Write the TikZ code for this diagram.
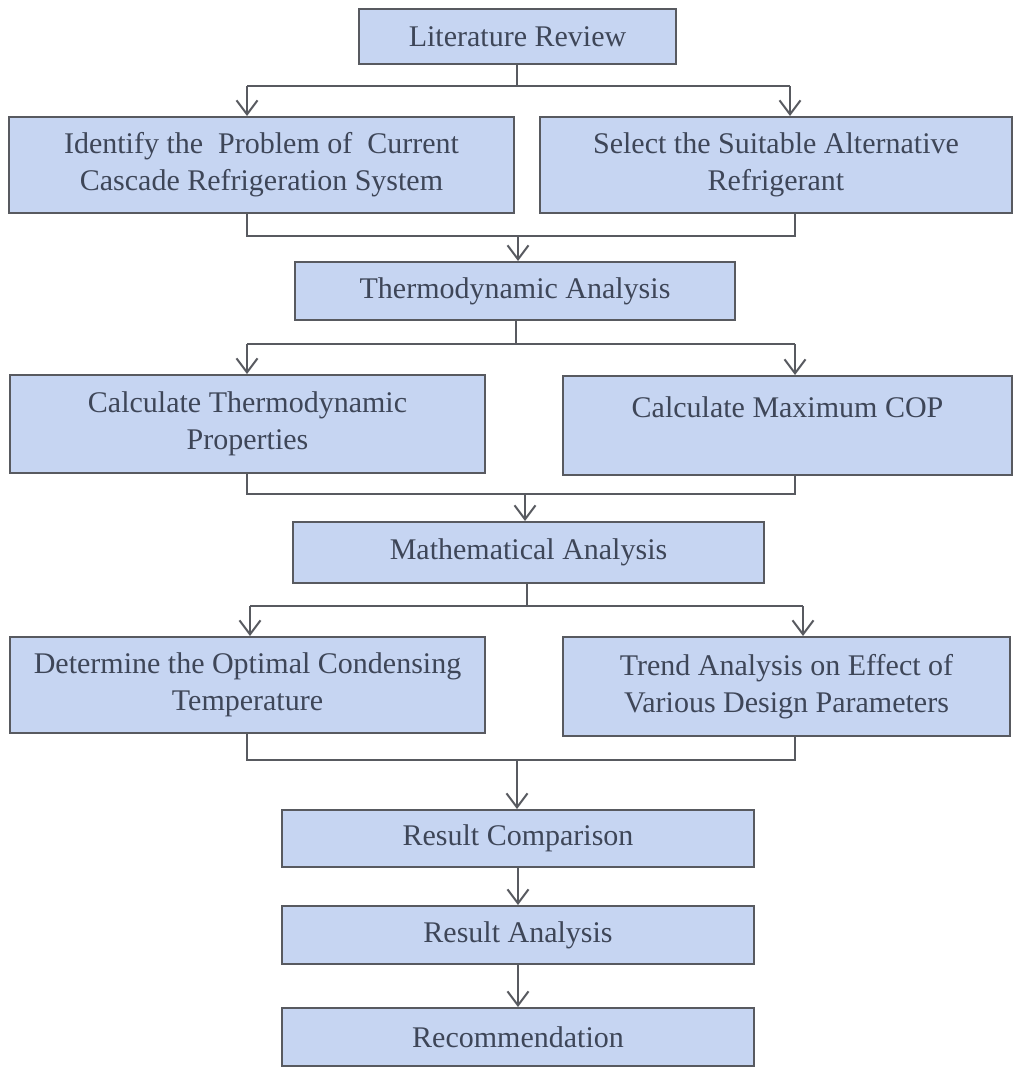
\documentclass[tikz,border=0pt]{standalone}
\usepackage{fontspec}
\setmainfont{Liberation Serif}
\usetikzlibrary{arrows.meta}
\definecolor{boxblue}{RGB}{198,213,242}
\definecolor{boxedge}{RGB}{88,90,96}
\definecolor{txtgray}{RGB}{62,70,88}
\tikzset{
  stage/.style={draw=boxedge, fill=boxblue, line width=2pt, text=txtgray,
    align=center, inner sep=0pt, font=\fontsize{30}{37}\selectfont},
  flow/.style={draw=boxedge, line width=2pt},
  into/.style={flow, -{Straight Barb[length=14pt,width=21pt,line width=2pt]}}
}
\begin{document}
\begin{tikzpicture}[x=1pt,y=-1pt]
\useasboundingbox (0,0) rectangle (1018,1071);
% boxes
\node[stage, minimum width=317pt, minimum height=55pt] (lr) at (517.5,36.5) {Literature Review};
\node[stage, minimum width=505pt, minimum height=96pt] (id) at (261.5,165) {Identify the\ \ Problem of\ \ Current\\Cascade Refrigeration System};
\node[stage, minimum width=472pt, minimum height=96pt] (sel) at (776,165) {Select the Suitable Alternative\\Refrigerant};
\node[stage, minimum width=440pt, minimum height=58pt] (ta) at (515,291) {Thermodynamic Analysis};
\node[stage, minimum width=475pt, minimum height=98pt] (ctp) at (247.5,424) {Calculate Thermodynamic\\Properties};
\node[stage, minimum width=449pt, minimum height=99pt] (cmc) at (787.5,425.5) {Calculate Maximum COP\\\mbox{}};
\node[stage, minimum width=471pt, minimum height=61pt] (ma) at (528.5,552.5) {Mathematical Analysis};
\node[stage, minimum width=475pt, minimum height=96pt] (det) at (247.5,685) {Determine the Optimal Condensing\\Temperature};
\node[stage, minimum width=447pt, minimum height=99pt] (tr) at (786.5,686.5) {Trend Analysis on Effect of\\Various Design Parameters};
\node[stage, minimum width=472pt, minimum height=57pt] (rc) at (518,838.5) {Result Comparison};
\node[stage, minimum width=472pt, minimum height=58pt] (ra) at (518,935) {Result Analysis};
\node[stage, minimum width=472pt, minimum height=58pt] (rec) at (518,1037) {Recommendation};

% split and merge points
\coordinate (s1) at (517,86);  \coordinate (s1L) at (247,86);  \coordinate (s1R) at (790,86);
\coordinate (m1) at (518,236); \coordinate (m1L) at (247,236); \coordinate (m1R) at (795,236);
\coordinate (s2) at (516,344); \coordinate (s2L) at (247,344); \coordinate (s2R) at (795,344);
\coordinate (m2) at (525,494); \coordinate (m2L) at (247,494); \coordinate (m2R) at (795,494);
\coordinate (s3) at (527,606); \coordinate (s3L) at (250,606); \coordinate (s3R) at (803,606);
\coordinate (m3) at (517,760); \coordinate (m3L) at (247,760); \coordinate (m3R) at (795,760);

\draw[flow] (s1 |- lr.south) -- (s1) (s1L) -- (s1R);
\draw[into] (s1L) -- (s1L |- id.north);
\draw[into] (s1R) -- (s1R |- sel.north);
\draw[flow] (m1L |- id.south) -- (m1L) -- (m1R) -- (m1R |- sel.south);
\draw[into] (m1) -- (m1 |- ta.north);

\draw[flow] (s2 |- ta.south) -- (s2) (s2L) -- (s2R);
\draw[into] (s2L) -- (s2L |- ctp.north);
\draw[into] (s2R) -- (s2R |- cmc.north);
\draw[flow] (m2L |- ctp.south) -- (m2L) -- (m2R) -- (m2R |- cmc.south);
\draw[into] (m2) -- (m2 |- ma.north);

\draw[flow] (s3 |- ma.south) -- (s3) (s3L) -- (s3R);
\draw[into] (s3L) -- (s3L |- det.north);
\draw[into] (s3R) -- (s3R |- tr.north);
\draw[flow] (m3L |- det.south) -- (m3L) -- (m3R) -- (m3R |- tr.south);
\draw[into] (m3) -- (m3 |- rc.north);

\draw[into] (rc.south) -- (ra.north);
\draw[into] (ra.south) -- (rec.north);
\end{tikzpicture}
\end{document}
